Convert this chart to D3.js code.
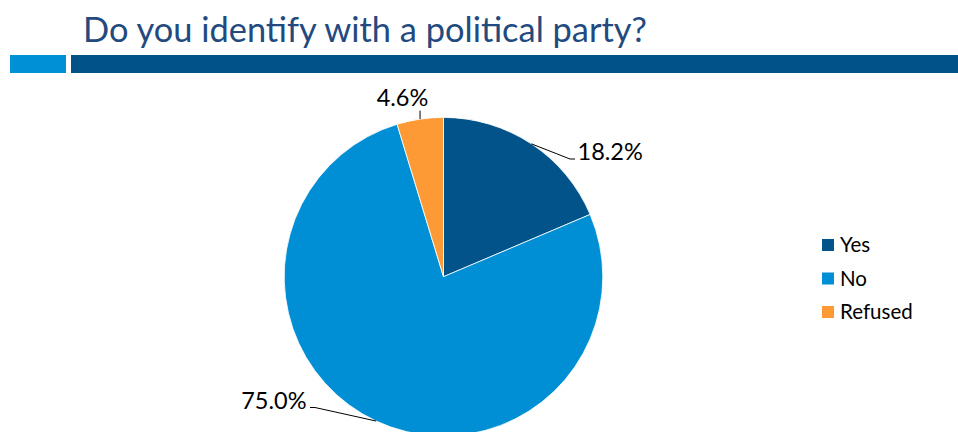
<!DOCTYPE html>
<html><head><meta charset="utf-8">
<script src="https://cdn.jsdelivr.net/npm/d3@7"></script>
<style>body{margin:0;background:#fff}svg{display:block}</style>
</head><body>
<svg id="c" width="958" height="432"></svg>
<script>
const title = "Do you identify with a political party?";
const categories = ["Yes", "No", "Refused"];
const values = [18.2, 75.0, 4.6];
const labels = ["18.2%", "75.0%", "4.6%"];
const colors = ["#01538a", "#008fd5", "#fd9a35"];

const svg = d3.select("#c");
const font = "Lato, 'Noto Sans', sans-serif";

// header
svg.append("text").attr("x", 83).attr("y", 42)
  .attr("font-family", font).attr("font-size", 35)
  .attr("fill", "#234a7e")
  .attr("textLength", 564).attr("lengthAdjust", "spacingAndGlyphs")
  .text(title);
svg.append("rect").attr("x", 10).attr("y", 55).attr("width", 56).attr("height", 18).attr("fill", "#0090d6");
svg.append("rect").attr("x", 71).attr("y", 55).attr("width", 887).attr("height", 18).attr("fill", "#02528a");

// pie
const cx = 443.5, cy = 276.7, R = 159.3;
const g = svg.append("g").attr("transform", `translate(${cx},${cy})`);
const pie = d3.pie().sort(null).value(d => d)(values);
const arc = d3.arc().innerRadius(0).outerRadius(R);
g.selectAll("path").data(pie).join("path")
  .attr("d", arc).attr("fill", (d, i) => colors[i])
  .attr("stroke", "#fff").attr("stroke-width", 0.8);

// labels with leader lines
const layout = [
  {elbow: [126.5, -117.7], end: [131.5, -117.7], text: [134, -124.5], anchor: "start"},
  {elbow: [-128.5, 130.8], end: [-133.5, 130.8], text: [-137, 123.8], anchor: "end"},
  {elbow: null, end: null, text: [-41, -178.5], anchor: "middle"}
];
pie.forEach((d, i) => {
  const a = (d.startAngle + d.endAngle) / 2;
  const sx = R * Math.sin(a), sy = -R * Math.cos(a);
  const L = layout[i];
  let pts;
  if (L.elbow) pts = [[sx, sy], L.elbow, L.end];
  else pts = [[sx, sy], [sx, sy - 8.5]];
  g.append("path").attr("d", d3.line()(pts)).attr("fill", "none")
    .attr("stroke", "#000").attr("stroke-width", 1);
  g.append("text").attr("x", L.text[0]).attr("y", L.text[1])
    .attr("dy", "0.35em").attr("text-anchor", L.anchor)
    .attr("font-family", font).attr("font-size", 23.5).attr("fill", "#000")
    .text(labels[i]);
});

// legend
const lg = svg.append("g").attr("transform", "translate(822,239)");
categories.forEach((c, i) => {
  const row = lg.append("g").attr("transform", `translate(0,${i * 33.5})`);
  row.append("rect").attr("width", 12).attr("height", 12).attr("fill", colors[i]);
  row.append("text").attr("x", 18).attr("y", 6).attr("dy", "0.35em")
    .attr("font-family", font).attr("font-size", 20.5).attr("fill", "#000").text(c);
});
</script>
</body></html>
